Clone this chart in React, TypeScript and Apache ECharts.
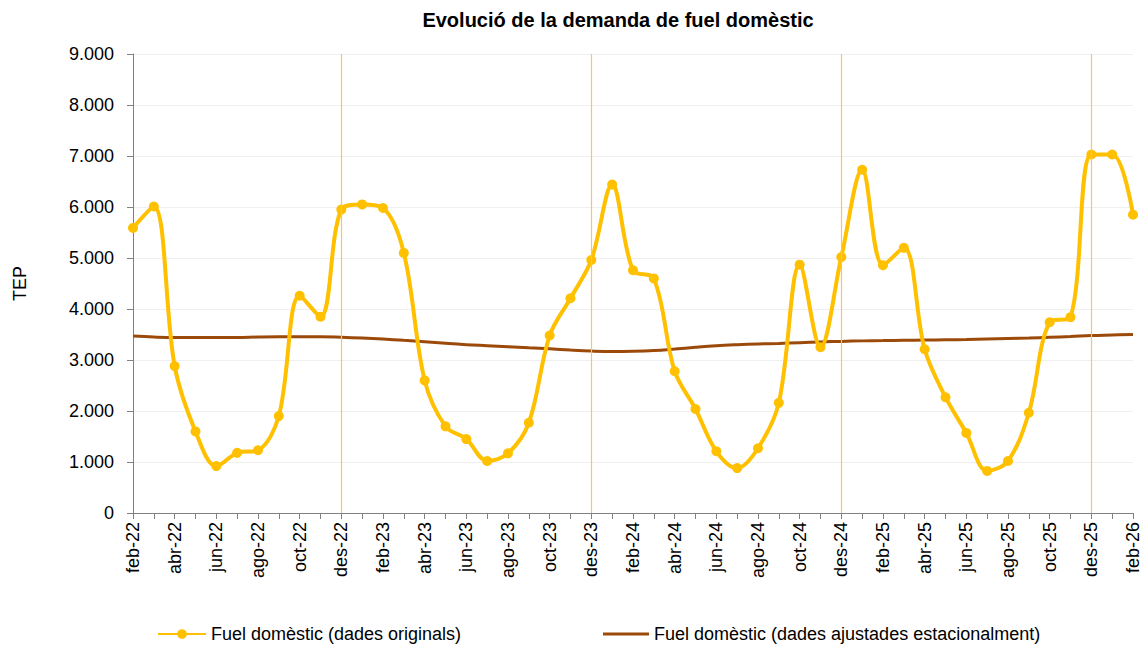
import React, { useEffect, useRef } from "react";
import * as echarts from "echarts";

const monthNames = ["gen", "feb", "mar", "abr", "mai", "jun", "jul", "ago", "set", "oct", "nov", "des"];
const categories: string[] = [];
for (let k = 0; k < 49; k++) {
  const m = (1 + k) % 12;
  const y = 22 + Math.floor((1 + k) / 12);
  categories.push(`${monthNames[m]}-${y}`);
}

const original = [
  5590, 6010, 2880, 1600, 920, 1180, 1230, 1900, 4260, 3850, 5950, 6050,
  5980, 5100, 2600, 1700, 1450, 1020, 1170, 1770, 3480, 4210, 4960, 6440,
  4760, 4600, 2780, 2040, 1210, 880, 1270, 2160, 4870, 3250, 5020, 6730,
  4860, 5200, 3210, 2270, 1570, 825, 1020, 1965, 3740, 3840, 7030, 7030,
  5850,
];

const adjusted = [
  3470, 3450, 3440, 3440, 3440, 3440, 3450, 3455, 3455, 3455, 3445, 3430,
  3410, 3385, 3360, 3330, 3300, 3280, 3260, 3240, 3220, 3195, 3175, 3165,
  3170, 3185, 3215, 3250, 3280, 3300, 3315, 3325, 3340, 3355, 3365, 3375,
  3380, 3385, 3390, 3395, 3400, 3410, 3420, 3430, 3445, 3460, 3480, 3490,
  3500,
];

const yearMarks = ["des-22", "des-23", "des-24", "des-25"];

const seriesNames = [
  "Fuel domèstic (dades originals)",
  "Fuel domèstic (dades ajustades estacionalment)",
];

const FONT = "Liberation Sans, Arial, sans-serif";

export default function App() {
  const ref = useRef<HTMLDivElement>(null);
  useEffect(() => {
    if (!ref.current) return;
    const chart = echarts.init(ref.current, null, { renderer: "svg" });
    chart.setOption({
      animation: false,
      backgroundColor: "#ffffff",
      textStyle: { fontFamily: FONT },
      title: {
        text: "Evolució de la demanda de fuel domèstic",
        left: 613,
        textAlign: "center",
        top: 5,
        textStyle: { fontFamily: FONT, fontSize: 20, fontWeight: "bold", color: "#000" },
      },
      legend: [
        {
          data: [seriesNames[0]],
          left: 152,
          top: 620,
          itemWidth: 48,
          itemHeight: 12,
          itemGap: 4,
          textStyle: { fontFamily: FONT, fontSize: 18, color: "#000" },
        },
        {
          data: [seriesNames[1]],
          left: 598,
          top: 620,
          itemWidth: 46,
          itemHeight: 3,
          icon: "rect",
          textStyle: { fontFamily: FONT, fontSize: 18, color: "#000" },
        },
      ],
      grid: { left: 133, right: 15, top: 54, bottom: 135, containLabel: false },
      xAxis: {
        type: "category",
        data: categories,
        boundaryGap: false,
        axisLine: { lineStyle: { color: "#808080", width: 1 } },
        axisTick: { interval: 0, length: 6, lineStyle: { color: "#808080" } },
        axisLabel: {
          interval: 1,
          rotate: 90,
          fontFamily: FONT,
          fontSize: 18,
          color: "#000",
          margin: 9,
        },
        splitLine: { show: false },
      },
      yAxis: {
        type: "value",
        min: 0,
        max: 9000,
        interval: 1000,
        name: "TEP",
        nameLocation: "middle",
        nameGap: 104,
        nameRotate: 90,
        nameTextStyle: { fontFamily: FONT, fontSize: 18, color: "#000" },
        axisLine: { show: true, lineStyle: { color: "#808080", width: 1 } },
        axisTick: { show: true, length: 6, lineStyle: { color: "#808080" } },
        axisLabel: {
          fontFamily: FONT,
          fontSize: 18,
          color: "#000",
          margin: 19,
          formatter: (v: number) => String(v).replace(/\B(?=(\d{3})+(?!\d))/g, "."),
        },
        splitLine: { show: true, lineStyle: { color: "#efefef", width: 1 } },
      },
      series: [
        {
          name: seriesNames[1],
          type: "line",
          data: adjusted,
          smooth: 0.4,
          symbol: "none",
          z: 2,
          lineStyle: { color: "#9C4A0A", width: 3 },
          itemStyle: { color: "#9C4A0A" },
          markLine: {
            silent: true,
            symbol: ["none", "none"],
            label: { show: false },
            lineStyle: { color: "#F7C46A", width: 1.2, type: "solid", opacity: 1 },
            emphasis: { disabled: true },
            data: yearMarks.map((m) => ({ xAxis: m })),
          },
        },
        {
          name: seriesNames[0],
          type: "line",
          data: original,
          smooth: 0.35,
          symbol: "circle",
          symbolSize: 10,
          showSymbol: true,
          z: 3,
          lineStyle: { color: "#FFC000", width: 4 },
          itemStyle: { color: "#FFC000" },
        },
      ],
    });
    return () => chart.dispose();
  }, []);
  return <div ref={ref} style={{ width: 1148, height: 648, position: "absolute", left: 0, top: 0 }} />;
}
